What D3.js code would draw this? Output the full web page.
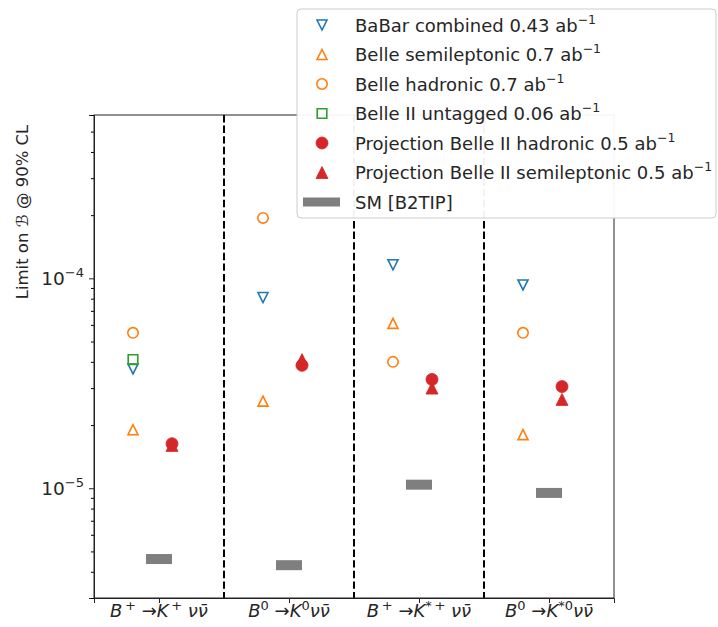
<!DOCTYPE html>
<html>
<head>
<meta charset="utf-8">
<script src="https://cdn.jsdelivr.net/npm/d3@7"></script>
<style>
  body { margin: 0; background: #fff; }
  svg { display: block; }
  text { font-family: "DejaVu Sans", sans-serif; fill: #262626; }
</style>
</head>
<body>
<svg id="chart" width="718" height="627"></svg>
<script>
// Decay channels (x categories), written as parts for math-style labels
const categories = ["B+ -> K+ nu nubar", "B0 -> K0 nu nubar", "B+ -> K*+ nu nubar", "B0 -> K*0 nu nubar"];
const parentCharge = ["+", "0", "+", "0"];
const kaonCharge = ["+", "0", "*+", "*0"];
const spaceBeforeNu = [true, false, true, false];

// Upper limits on the branching fraction at 90% CL
const babarCombined = [3.7e-5, 8.1e-5, 1.16e-4, 9.3e-5];
const belleSemileptonic = [1.9e-5, 2.6e-5, 6.1e-5, 1.8e-5];
const belleHadronic = [5.5e-5, 1.94e-4, 4.0e-5, 5.5e-5];
const belle2Untagged = [4.1e-5, null, null, null];
const projHadronic = [1.63e-5, 3.85e-5, 3.3e-5, 3.05e-5];
const projSemileptonic = [1.6e-5, 4.1e-5, 3.0e-5, 2.65e-5];
// Standard Model predictions
const smPrediction = [4.6e-6, 4.3e-6, 1.04e-5, 9.5e-6];

const yMajorTicks = [1e-5, 1e-4];
const yMinorTicks = [3e-6, 4e-6, 5e-6, 6e-6, 7e-6, 8e-6, 9e-6,
  2e-5, 3e-5, 4e-5, 5e-5, 6e-5, 7e-5, 8e-5, 9e-5,
  2e-4, 3e-4, 4e-4, 5e-4, 6e-4];

const C = { blue: "#1f77b4", orange: "#ff7f0e", green: "#2ca02c", red: "#d62728", gray: "#7f7f7f" };

const svg = d3.select("#chart");
const plot = { left: 94, right: 614, top: 115, bottom: 598 };

const x = d3.scaleLinear().domain([-0.5, 3.5]).range([plot.left, plot.right]);
const y = d3.scaleLog().domain([3e-6, 6e-4]).range([plot.bottom, plot.top]);

const dataOffset = -0.2;   // measured results
const projOffset = 0.1;    // projections

// Marker shapes
function markerPath(kind, s) {
  switch (kind) {
    case "tri-up": return `M0,${-s}L${-s},${s}L${s},${s}Z`;
    case "tri-down": return `M0,${s}L${-s},${-s}L${s},${-s}Z`;
    case "square": return `M${-s},${-s}H${s}V${s}H${-s}Z`;
    case "circle": return d3.arc()({ innerRadius: 0, outerRadius: s, startAngle: 0, endAngle: 2 * Math.PI });
  }
}

const series = [
  { name: "BaBar combined 0.43 ab", values: babarCombined, kind: "tri-down", color: C.blue, filled: false, off: dataOffset, size: 5 },
  { name: "Belle semileptonic 0.7 ab", values: belleSemileptonic, kind: "tri-up", color: C.orange, filled: false, off: dataOffset, size: 5 },
  { name: "Belle hadronic 0.7 ab", values: belleHadronic, kind: "circle", color: C.orange, filled: false, off: dataOffset, size: 5.2 },
  { name: "Belle II untagged 0.06 ab", values: belle2Untagged, kind: "square", color: C.green, filled: false, off: dataOffset, size: 4.8 },
  { name: "Projection Belle II hadronic 0.5 ab", values: projHadronic, kind: "circle", color: C.red, filled: true, off: projOffset, size: 6 },
  { name: "Projection Belle II semileptonic 0.5 ab", values: projSemileptonic, kind: "tri-up", color: C.red, filled: true, off: projOffset, size: 6 }
];

// Separators between channels
const seps = d3.range(categories.length - 1).map(i => i + 0.5);
svg.append("g").selectAll("line").data(seps).join("line")
  .attr("x1", d => x(d)).attr("x2", d => x(d))
  .attr("y1", plot.top).attr("y2", plot.bottom)
  .attr("stroke", "#000").attr("stroke-width", 2)
  .attr("stroke-dasharray", "7.4,3.2");

// SM predictions as thick bars
svg.append("g").selectAll("rect").data(smPrediction).join("rect")
  .attr("x", (d, i) => x(i - 0.1)).attr("width", (d, i) => x(i + 0.1) - x(i - 0.1))
  .attr("y", d => y(d) - 5).attr("height", 10)
  .attr("fill", C.gray);

// Limits
series.forEach(s => {
  svg.append("g").selectAll("path")
    .data(s.values.map((v, i) => ({ v, i })).filter(d => d.v != null))
    .join("path")
    .attr("transform", d => `translate(${x(d.i + s.off)},${y(d.v)})`)
    .attr("d", markerPath(s.kind, s.size))
    .attr("fill", s.filled ? s.color : "none")
    .attr("stroke", s.color)
    .attr("stroke-width", s.filled ? 0.8 : 1.6)
    .attr("stroke-linejoin", "miter");
});

// Axes
const yAxis = svg.append("g").attr("transform", `translate(${plot.left},0)`)
  .call(d3.axisLeft(y).tickValues(yMajorTicks).tickSize(5).tickFormat(""));
svg.append("g").attr("transform", `translate(${plot.left},0)`)
  .call(d3.axisLeft(y).tickValues(yMinorTicks).tickSize(3).tickFormat(""))
  .call(g => g.select(".domain").remove());
yMajorTicks.forEach(v => {
  const t = svg.append("text").attr("x", plot.left - 10).attr("y", y(v) + 7)
    .attr("text-anchor", "end").attr("font-size", 18.5);
  t.append("tspan").text("10");
  t.append("tspan").attr("dy", -8).attr("font-size", 13).text("\u2212" + Math.round(-Math.log10(v)));
});

const xAxis = svg.append("g").attr("transform", `translate(0,${plot.bottom})`)
  .call(d3.axisBottom(x).tickValues(d3.range(categories.length)).tickSize(5).tickFormat(""));
categories.forEach((c, i) => {
  const t = svg.append("text").attr("x", x(i)).attr("y", plot.bottom + 19)
    .attr("text-anchor", "middle").attr("font-size", 18);
  t.append("tspan").attr("font-style", "italic").text("B");
  t.append("tspan").attr("dy", -7).attr("font-size", 13).text(parentCharge[i] === "+" ? "\u2009+" : "0");
  t.append("tspan").attr("dy", 7).text(" \u2192");
  t.append("tspan").attr("font-style", "italic").text("K");
  t.append("tspan").attr("dy", -7).attr("font-size", 13).text(kaonCharge[i].replace("+", "\u2009+"));
  t.append("tspan").attr("dy", 7).attr("font-style", "italic").text((spaceBeforeNu[i] ? " " : "") + "\u03bd\u03bd\u0304");
});

[yAxis, xAxis].forEach(g => {
  g.selectAll("line").attr("stroke", "#222");
  g.select(".domain").attr("stroke", "#222");
});

// Frame
svg.append("rect").attr("x", plot.left).attr("y", plot.top)
  .attr("width", plot.right - plot.left).attr("height", plot.bottom - plot.top)
  .attr("fill", "none").attr("stroke", "#222").attr("stroke-width", 1);

// Y label
const yl = svg.append("text")
  .attr("transform", "translate(28,212) rotate(-90)")
  .attr("text-anchor", "middle").attr("font-size", 16.5);
yl.append("tspan").text("Limit on ");
yl.append("tspan").attr("font-style", "italic").text("\u212c");
yl.append("tspan").text(" @ 90% CL");

// Legend
const leg = svg.append("g");
leg.append("rect").attr("x", 297).attr("y", 9).attr("width", 419).attr("height", 209)
  .attr("rx", 4).attr("fill", "#fff").attr("fill-opacity", 0.95)
  .attr("stroke", "#ccc").attr("stroke-width", 1);
const rowY = i => 25 + i * 29.5;
series.forEach((s, i) => {
  leg.append("path").attr("transform", `translate(322,${rowY(i)})`)
    .attr("d", markerPath(s.kind, s.size))
    .attr("fill", s.filled ? s.color : "none")
    .attr("stroke", s.color).attr("stroke-width", s.filled ? 0.8 : 1.6);
  const t = leg.append("text").attr("x", 355).attr("y", rowY(i) + 6.5).attr("font-size", 18);
  t.append("tspan").text(s.name);
  t.append("tspan").attr("dy", -8).attr("font-size", 12.5).text("\u22121");
});
leg.append("rect").attr("x", 303).attr("y", rowY(6) - 4.5).attr("width", 37).attr("height", 9)
  .attr("fill", C.gray);
leg.append("text").attr("x", 355).attr("y", rowY(6) + 6.5).attr("font-size", 18).text("SM [B2TIP]");
</script>
</body>
</html>
